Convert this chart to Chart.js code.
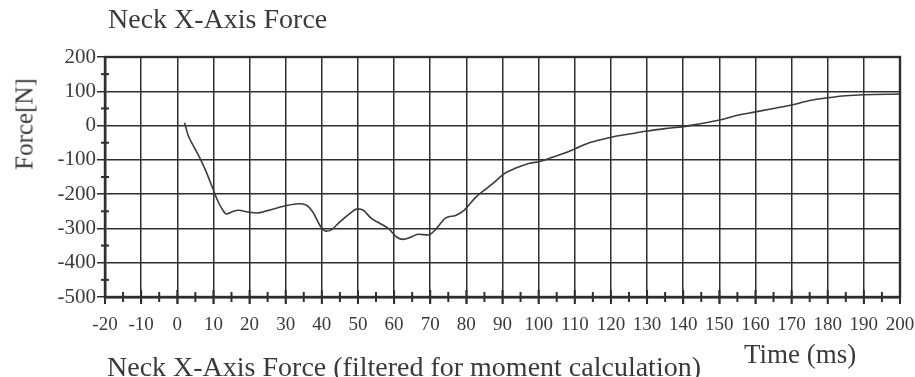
<!DOCTYPE html>
<html>
<head>
<meta charset="utf-8">
<script src="https://cdn.jsdelivr.net/npm/chart.js@4"></script>
<style>
  html, body { margin: 0; padding: 0; background: #fff; }
  #wrap { position: relative; width: 915px; height: 377px; overflow: hidden; }
  #wrap canvas { position: absolute; left: 0; top: 0; }
  .txt { position: absolute; font-family: "Liberation Serif", "DejaVu Serif", serif; color: #3a3a3a; white-space: nowrap; line-height: 1; }
</style>
</head>
<body>
<div id="wrap">
  <canvas id="myChart" width="915" height="377"></canvas>
  <div class="txt" id="title" style="left:108px; top:5px; font-size:28px;">Neck X-Axis Force</div>
  <div class="txt" id="ylabel" style="left:24px; top:124px; font-size:25px; transform: translate(-50%, -50%) rotate(-90deg);">Force[N]</div>
  <div class="txt" id="xlabel" style="left:744px; top:341px; font-size:27px;">Time (ms)</div>
  <div class="txt" id="caption" style="left:107px; top:353px; font-size:28px;">Neck X-Axis Force (filtered for moment calculation)</div>
</div>
<script>
// values
const timeMs = [2, 3, 4.5, 6.5, 8, 9.7, 11, 12.5, 13.6, 15.5, 17, 19.5, 22, 25, 30, 33.5, 35.5, 37.5, 39.7, 41.2,
  42.5, 45, 47.2, 50, 51.5, 53.7, 56, 58.4, 60.7, 62.5, 64.9, 66.7, 69.5, 71.4, 74.2, 77, 79.3, 82.5, 85.3, 88.1,
  90.5, 93.7, 97.5, 100.3, 104, 107, 110, 114, 116.5, 120, 125.5, 130, 135, 140, 144, 150, 155, 160, 165, 170,
  175, 180, 185, 190, 200];
const forceN = [8, -28, -60, -100, -135, -180, -215, -245, -258, -250, -247, -252, -255, -248, -234, -228, -231, -252, -295, -308,
  -305, -281, -261, -243, -247, -271, -285, -300, -325, -332, -324, -317, -319, -304, -270, -262, -248, -210, -186, -162,
  -140, -124, -110, -105, -92, -81, -68, -50, -43, -34, -24, -16, -9, -3, 4, 16, 30, 40, 50, 60,
  73, 81, 87, 90, 92];

const xRange = [-20, 200];
const yRange = [-500, 200];
const xStep = 10, xMinorStep = 5;
const yStep = 100, yMinorStep = 50;

const points = timeMs.map((t, i) => ({ x: t, y: forceN[i] }));

const ink = '#2e2e2e';

// little cross marks on the axes at the minor steps
const minorTicks = {
  id: 'minorTicks',
  afterDraw(chart) {
    const ctx = chart.ctx;
    const xs = chart.scales.x, ys = chart.scales.y;
    const area = chart.chartArea;
    ctx.save();
    ctx.strokeStyle = ink;
    ctx.lineWidth = 2;
    for (let v = xRange[0]; v <= xRange[1]; v += xMinorStep) {
      const px = xs.getPixelForValue(v);
      const major = v % xStep === 0;
      const h = major ? 7 : 5;
      ctx.beginPath();
      ctx.moveTo(px, area.bottom - h);
      ctx.lineTo(px, area.bottom + h);
      ctx.stroke();
    }
    for (let v = yRange[0]; v <= yRange[1]; v += yMinorStep) {
      if (v % yStep === 0) continue;
      const py = ys.getPixelForValue(v);
      ctx.beginPath();
      ctx.moveTo(area.left - 4, py);
      ctx.lineTo(area.left + 4, py);
      ctx.stroke();
    }
    // frame
    ctx.lineWidth = 2.4;
    ctx.strokeRect(area.left, area.top, area.right - area.left, area.bottom - area.top);
    ctx.restore();
  }
};

new Chart(document.getElementById('myChart'), {
  type: 'line',
  data: {
    datasets: [{
      label: 'Neck X-Axis Force',
      data: points,
      borderColor: '#3c3c3c',
      borderWidth: 1.6,
      pointRadius: 0,
      cubicInterpolationMode: 'monotone',
      fill: false
    }]
  },
  options: {
    responsive: false,
    animation: false,
    layout: { padding: { left: 0, top: 57, right: 15, bottom: 0 } },
    plugins: {
      legend: { display: false },
      tooltip: { enabled: false }
    },
    scales: {
      x: {
        type: 'linear',
        min: xRange[0],
        max: xRange[1],
        afterFit: (s) => { s.height = 80; s.paddingLeft = 0; s.paddingRight = 0; },
        ticks: {
          stepSize: xStep,
          color: '#3a3a3a',
          padding: 10,
          maxRotation: 0,
          autoSkip: false,
          font: { family: 'Liberation Serif', size: 19 }
        },
        grid: { color: ink, lineWidth: 1.5, tickLength: 7 },
        border: { color: ink, width: 2.4 }
      },
      y: {
        min: yRange[0],
        max: yRange[1],
        afterFit: (s) => { s.width = 105; s.paddingTop = 0; s.paddingBottom = 0; },
        ticks: {
          stepSize: yStep,
          color: '#3a3a3a',
          padding: 1,
          font: { family: 'Liberation Serif', size: 21 }
        },
        grid: { color: ink, lineWidth: 1.5, tickLength: 8 },
        border: { color: ink, width: 2.4 }
      }
    }
  },
  plugins: [minorTicks]
});
</script>
</body>
</html>
